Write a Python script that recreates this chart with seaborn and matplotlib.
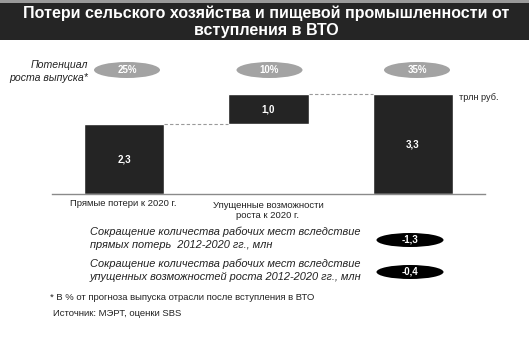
import matplotlib
matplotlib.use("Agg")
import matplotlib.pyplot as plt
from matplotlib.patches import Ellipse, Rectangle
import seaborn as sns
import pandas as pd

# Waterfall values, trillion roubles
categories = ["Прямые потери к 2020 г.", "Упущенные возможности\nроста к 2020 г.", ""]
values = [2.3, 1.0, 3.3]
bottoms = [0.0, 2.3, 0.0]
value_labels = ["2,3", "1,0", "3,3"]
growth_share = ["25%", "10%", "35%"]

# Job cuts, million
job_texts = [
    ["Сокращение количества рабочих мест вследствие",
     "прямых потерь  2012-2020 гг., млн"],
    ["Сокращение количества рабочих мест вследствие",
     "упущенных возможностей роста 2012-2020 гг., млн"],
]
job_values = ["-1,3", "-0,4"]

sns.set_theme(style="white")
plt.rcParams["font.family"] = ["Liberation Sans", "DejaVu Sans"]

W, H = 529, 346
fig = plt.figure(figsize=(W / 100, H / 100), dpi=100)

def fx(px):
    return px / W

def fy(py):
    return 1 - py / H

# Main waterfall axes
ax_l, ax_r, ax_b, ax_t = 51.75, 485.25, 194, 94 - 0.2 * 30.3
ax = fig.add_axes([fx(ax_l), fy(ax_b), fx(ax_r) - fx(ax_l), fy(ax_t) - fy(ax_b)])
df = pd.DataFrame({"cat": ["a", "b", "c"], "val": values})
bar_w = 0.555
sns.barplot(data=df, x="cat", y="val", color="#242424", saturation=1,
            width=bar_w, bottom=bottoms, ax=ax, errorbar=None)
ax.set_xlim(-0.5, 2.5)
ax.set_ylim(0, 3.5)
ax.set_xticks([])
ax.set_yticks([])
ax.set_xlabel("")
ax.set_ylabel("")
for s in ["top", "left", "right"]:
    ax.spines[s].set_visible(False)
ax.spines["bottom"].set_color("#8a8a8a")
ax.spines["bottom"].set_linewidth(1.0)
ax.patch.set_alpha(0)

# Connectors between bars
tops = [b + v for b, v in zip(bottoms, values)]
for i in range(2):
    ax.plot([i + bar_w / 2, i + 1 - bar_w / 2], [tops[i], tops[i]],
            ls=(0, (3, 2)), lw=0.8, color="#9a9a9a")

for i, (b, v, lab) in enumerate(zip(bottoms, values, value_labels)):
    ax.text(i, b + v / 2, lab, ha="center", va="center", color="white",
            fontsize=7, fontweight="bold")

# Overlay in pixel coordinates for annotations
ov = fig.add_axes([0, 0, 1, 1])
ov.set_xlim(0, W)
ov.set_ylim(H, 0)
ov.axis("off")
ov.patch.set_alpha(0)

ov.add_patch(Rectangle((0, 0), W, 2.5, color="#9a9a9a", lw=0))
ov.add_patch(Rectangle((0, 2.5), W, 37.5, color="#252525", lw=0))
ov.text(W / 2 + 2, 13.5, "Потери сельского хозяйства и пищевой промышленности от",
        ha="center", va="center", color="white", fontsize=11.5, fontweight="bold")
ov.text(W / 2 + 2, 31, "вступления в ВТО",
        ha="center", va="center", color="white", fontsize=11.5, fontweight="bold")

ov.text(88, 65, "Потенциал", ha="right", va="center", fontsize=7.6,
        style="italic", color="#222222")
ov.text(88, 78, "роста выпуска*", ha="right", va="center", fontsize=7.6,
        style="italic", color="#222222")

centers = [127, 269.5, 417]
for cx, lab in zip(centers, growth_share):
    ov.add_patch(Ellipse((cx, 70), 66, 16, color="#a3a3a3", lw=0))
    ov.text(cx, 70, lab, ha="center", va="center", color="white",
            fontsize=7, fontweight="bold")

ov.text(459, 97, "трлн руб.", ha="left", va="center", fontsize=6.6, color="#222222")

ov.text(123, 204, categories[0], ha="center", va="center", fontsize=6.8, color="#222222")
for k, line in enumerate(categories[1].split("\n")):
    ov.text(268, 205 + 10.5 * k, line, ha="center", va="center",
            fontsize=6.8, color="#222222")

for y0, lines in zip([232, 264], job_texts):
    for k, line in enumerate(lines):
        ov.text(90, y0 + 13.5 * k, line, ha="left", va="center", fontsize=7.9,
                style="italic", color="#222222")
for yc, val in zip([240, 272], job_values):
    ov.add_patch(Ellipse((410, yc), 67, 14, color="black", lw=0))
    ov.text(410, yc, val, ha="center", va="center", color="white",
            fontsize=7, fontweight="bold")

ov.text(50, 298, "* В % от прогноза выпуска отрасли после вступления в ВТО",
        ha="left", va="center", fontsize=6.8, color="#222222")
ov.text(53, 313, "Источник: МЭРТ, оценки SBS",
        ha="left", va="center", fontsize=6.8, color="#222222")

fig.savefig("out.png", dpi=100, facecolor="white")
